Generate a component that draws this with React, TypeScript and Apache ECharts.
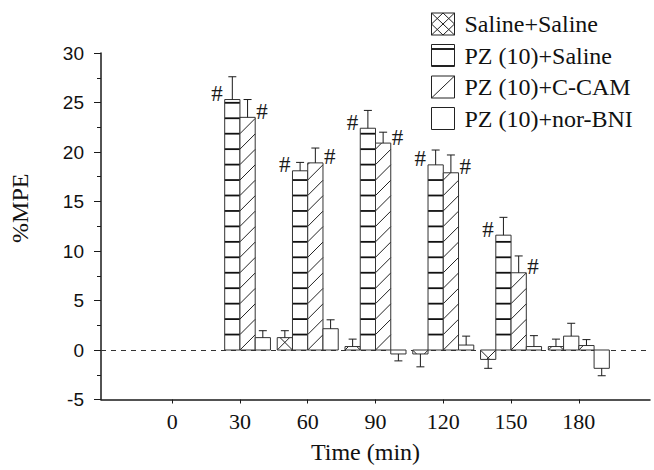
import React, { useEffect, useRef } from "react";
import * as echarts from "echarts";

// ---- data ----
const times = [30, 60, 90, 120, 150, 180];
const seriesNames = ["Saline+Saline", "PZ (10)+Saline", "PZ (10)+C-CAM", "PZ (10)+nor-BNI"];
const salineSaline = [0, 1.25, 0.35, -0.4, -0.95, 0.35];
const salineSalineErr = [0, 0.7, 0.75, 1.3, 0.9, 0.75];
const pzSaline = [25.3, 18.1, 22.4, 18.7, 11.6, 1.4];
const pzSalineErr = [2.3, 0.85, 1.8, 1.5, 1.8, 1.3];
const pzCcam = [23.5, 18.9, 20.9, 17.9, 7.8, 0.45];
const pzCcamErr = [1.8, 1.5, 1.1, 1.8, 1.7, 0.6];
const pzNorBni = [1.25, 2.15, -0.4, 0.5, 0.35, -1.85];
const pzNorBniErr = [0.7, 0.9, 0.7, 0.9, 1.1, 0.75];
const pzSalineSig = [1, 1, 1, 1, 1, 0];
const pzCcamSig = [1, 1, 1, 1, 1, 0];
const noSig = [0, 0, 0, 0, 0, 0];
const xTickValues = [0, 30, 60, 90, 120, 150, 180];

// ---- style constants ----
const SERIF = "Liberation Serif, Times New Roman, serif";
const SANS = "Liberation Sans, Arial, sans-serif";
const BAR_W = 6.75; // in minutes
const STEP = 15.45; // pattern spacing px
const INK = "#1a1a1a";

type Kind = "x" | "h" | "d" | "n";

function pattern(kind: Kind, x0: number, x1: number, yT: number, yB: number, baseY: number) {
  const out: any[] = [];
  if (yB - yT < 0.5) return out;
  if (kind === "h") {
    for (let k = -40; k <= 40; k++) {
      const y = baseY - k * STEP;
      if (y > yT + 1 && y < yB - 1) {
        out.push({ type: "line", shape: { x1: x0, y1: y, x2: x1, y2: y }, style: { stroke: "#111", lineWidth: 1.8 } });
      }
    }
  }
  if (kind === "d" || kind === "x") {
    const cBase = x0 + baseY;
    const kMin = Math.floor((x0 + yT - cBase) / STEP) - 1;
    const kMax = Math.ceil((x1 + yB - cBase) / STEP) + 1;
    for (let k = kMin; k <= kMax; k++) {
      const c = cBase + k * STEP;
      const lo = Math.max(x0, c - yB);
      const hi = Math.min(x1, c - yT);
      if (hi - lo > 0.3) {
        out.push({ type: "line", shape: { x1: lo, y1: c - lo, x2: hi, y2: c - hi }, style: { stroke: "#222", lineWidth: 1 } });
      }
    }
  }
  if (kind === "x") {
    const cBase = baseY - x1;
    const kMin = Math.floor((yT - x1 - cBase) / STEP) - 1;
    const kMax = Math.ceil((yB - x0 - cBase) / STEP) + 1;
    for (let k = kMin; k <= kMax; k++) {
      const c = cBase + k * STEP;
      const lo = Math.max(x0, yT - c);
      const hi = Math.min(x1, yB - c);
      if (hi - lo > 0.3) {
        out.push({ type: "line", shape: { x1: lo, y1: lo + c, x2: hi, y2: hi + c }, style: { stroke: "#222", lineWidth: 1 } });
      }
    }
  }
  return out;
}

function makeRender(kind: Kind, slot: number, sigSide: "left" | "right" | "none") {
  return (params: any, api: any) => {
    const t = api.value(0);
    const v = api.value(1);
    const e = api.value(2);
    const sig = api.value(3);
    const base = api.coord([t, 0]);
    const top = api.coord([t, v]);
    const w = api.size([BAR_W, 0])[0];
    const x0 = base[0] + (slot - 2) * w;
    const x1 = x0 + w;
    const yT = Math.min(base[1], top[1]);
    const yB = Math.max(base[1], top[1]);
    const children: any[] = [];
    if (yB - yT >= 0.5) {
      children.push({ type: "rect", shape: { x: x0, y: yT, width: w, height: yB - yT }, style: { fill: "#fff", stroke: null } });
      children.push(...pattern(kind, x0, x1, yT, yB, base[1]));
      children.push({ type: "rect", shape: { x: x0, y: yT, width: w, height: yB - yT }, style: { fill: null, stroke: "#333", lineWidth: 1 } });
    }
    if (e > 0) {
      const cx = (x0 + x1) / 2;
      const yE = api.coord([t, v >= 0 ? v + e : v - e])[1];
      children.push({ type: "line", shape: { x1: cx, y1: top[1], x2: cx, y2: yE }, style: { stroke: INK, lineWidth: 1 } });
      children.push({ type: "line", shape: { x1: cx - 4, y1: yE, x2: cx + 4, y2: yE }, style: { stroke: INK, lineWidth: 1 } });
    }
    if (sig && sigSide !== "none") {
      children.push({
        type: "text",
        style: {
          text: "#",
          x: sigSide === "left" ? x0 - 2 : x1 + 1,
          y: top[1] - 6,
          align: sigSide === "left" ? "right" : "left",
          verticalAlign: "middle",
          fontFamily: SERIF,
          fontSize: 23,
          fill: INK,
        },
      });
    }
    return { type: "group", children };
  };
}

const rows = (vals: number[], errs: number[], sig: number[]) => times.map((t, i) => [t, vals[i], errs[i], sig[i]]);

const legendIcons = [
  "path://M0,0L23,0L23,22L0,22Z M0,0L23,22 M23,0L0,22 M11.5,0L0,11 M11.5,0L23,11 M0,11L11.5,22 M23,11L11.5,22",
  "path://M0,0L23,0L23,22L0,22Z M0,4L23,4 M0,5L23,5 M0,21L23,21",
  "path://M0,0L23,0L23,22L0,22Z M0,22L23,0",
  "path://M0,0L23,0L23,22L0,22Z",
];

const seriesDefs: { vals: number[]; errs: number[]; sig: number[]; kind: Kind; side: "left" | "right" | "none" }[] = [
  { vals: salineSaline, errs: salineSalineErr, sig: noSig, kind: "x", side: "none" },
  { vals: pzSaline, errs: pzSalineErr, sig: pzSalineSig, kind: "h", side: "left" },
  { vals: pzCcam, errs: pzCcamErr, sig: pzCcamSig, kind: "d", side: "right" },
  { vals: pzNorBni, errs: pzNorBniErr, sig: noSig, kind: "n", side: "none" },
];

const option: any = {
  animation: false,
  backgroundColor: "#fff",
  grid: { left: 93, right: 4, top: 53, bottom: 70.5, containLabel: false },
  legend: {
    orient: "vertical",
    left: 426,
    top: 7,
    itemWidth: 23,
    itemHeight: 22,
    itemGap: 7.5,
    selectedMode: false,
    textStyle: { fontFamily: SERIF, fontSize: 24, color: "#111", padding: [0, 0, 0, 5] },
    data: seriesNames.map((n, i) => ({
      name: n,
      icon: legendIcons[i],
      itemStyle: { color: "#fff", borderColor: "#222", borderWidth: 1 },
    })),
  },
  xAxis: {
    type: "value",
    min: -31.5,
    max: 211.5,
    name: "Time (min)",
    nameLocation: "middle",
    nameGap: 40,
    nameTextStyle: { fontFamily: SERIF, fontSize: 24, color: "#111", padding: [0, 20, 0, 0] },
    axisLine: { onZero: false, lineStyle: { color: INK, width: 1.5 } },
    axisTick: { show: true, length: 4, inside: false, customValues: xTickValues, lineStyle: { color: INK } },
    axisLabel: { customValues: xTickValues, margin: 11, fontFamily: SERIF, fontSize: 22, color: "#111" },
    splitLine: { show: false },
  },
  yAxis: {
    type: "value",
    min: -5,
    max: 30,
    interval: 5,
    name: "%MPE",
    nameLocation: "middle",
    nameGap: 69,
    nameTextStyle: { fontFamily: SERIF, fontSize: 24, color: "#111", padding: [0, 0, 0, 36] },
    axisLine: { show: true, onZero: false, lineStyle: { color: INK, width: 1.5 } },
    axisTick: { show: true, length: 7, inside: false, lineStyle: { color: INK } },
    minorTick: { show: true, splitNumber: 2, length: 4, lineStyle: { color: INK } },
    axisLabel: { margin: 17, fontFamily: SANS, fontSize: 19, color: "#111" },
    splitLine: { show: false },
  },
  series: seriesDefs.map((d, i) => ({
    type: "custom",
    name: seriesNames[i],
    renderItem: makeRender(d.kind, i, d.side),
    encode: { x: 0, y: 1 },
    data: rows(d.vals, d.errs, d.sig),
    itemStyle: { color: "#fff", borderColor: "#222" },
    z: 3,
    ...(i === 0
      ? {
          markLine: {
            silent: true,
            symbol: ["none", "none"],
            label: { show: false },
            lineStyle: { type: [5, 5], color: "#333", width: 1 },
            data: [{ yAxis: 0 }],
            z: 1,
          },
        }
      : {}),
  })),
};

export default function App() {
  const ref = useRef<HTMLDivElement>(null);
  useEffect(() => {
    const chart = echarts.init(ref.current!, null, { renderer: "svg" });
    chart.setOption(option);
    return () => chart.dispose();
  }, []);
  return (
    <div
      ref={ref}
      style={{ position: "absolute", left: 0, top: 0, width: 654, height: 470, background: "#fff" }}
    />
  );
}
